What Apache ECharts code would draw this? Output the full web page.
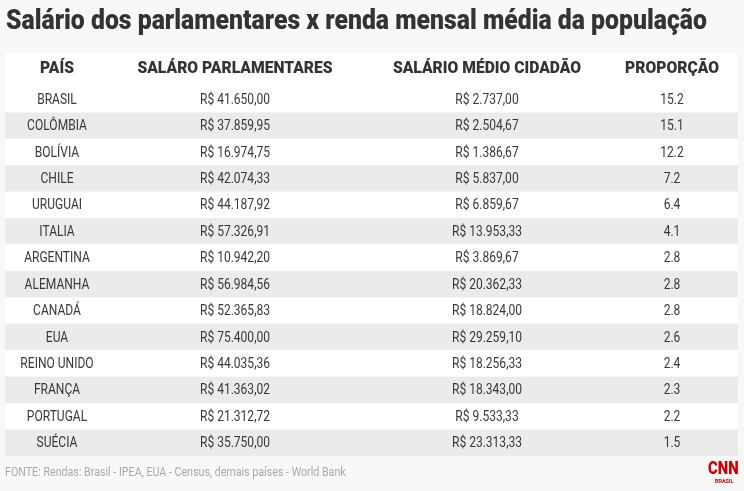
<!DOCTYPE html>
<html>
<head>
  <meta charset="UTF-8">
  <title>Salário dos parlamentares</title>
  <script src="https://cdn.jsdelivr.net/npm/echarts@6/dist/echarts.min.js"></script>
  <style>
    html, body { margin: 0; padding: 0; background: #f8f8f8; }
    #main { width: 744px; height: 491px; }
  </style>
</head>
<body>
<div id="main"></div>
<script type="text/javascript">
  // dados da tabela
  var paises = ['BRASIL', 'COLÔMBIA', 'BOLÍVIA', 'CHILE', 'URUGUAI', 'ITALIA', 'ARGENTINA',
    'ALEMANHA', 'CANADÁ', 'EUA', 'REINO UNIDO', 'FRANÇA', 'PORTUGAL', 'SUÉCIA'];
  var salarioParlamentares = [41650.00, 37859.95, 16974.75, 42074.33, 44187.92, 57326.91, 10942.20,
    56984.56, 52365.83, 75400.00, 44035.36, 41363.02, 21312.72, 35750.00];
  var salarioCidadao = [2737.00, 2504.67, 1386.67, 5837.00, 6859.67, 13953.33, 3869.67,
    20362.33, 18824.00, 29259.10, 18256.33, 18343.00, 9533.33, 23313.33];
  var proporcao = [15.2, 15.1, 12.2, 7.2, 6.4, 4.1, 2.8, 2.8, 2.8, 2.6, 2.4, 2.3, 2.2, 1.5];
  var cabecalho = ['PAÍS', 'SALÁRO PARLAMENTARES', 'SALÁRIO MÉDIO CIDADÃO', 'PROPORÇÃO'];

  // sem Roboto Condensed: Roboto comprimido na horizontal
  var FONT = 'Roboto, "Liberation Sans", sans-serif';
  var SX = 0.86;
  var colunas = [52, 230, 482, 667]; // centro de cada coluna (px a partir da esquerda do grid)

  function brl(v) {
    var p = v.toFixed(2).split('.');
    return 'R$ ' + p[0].replace(/\B(?=(\d{3})+(?!\d))/g, '.') + ',' + p[1];
  }

  function texto(t, x, y, font, fill, align, sx) {
    return {
      type: 'text', x: x, y: y, scaleX: sx || SX,
      style: { text: t, x: 0, y: 0, font: font, fill: fill, align: align || 'center', verticalAlign: 'middle' }
    };
  }

  var myChart = echarts.init(document.getElementById('main'));

  var option = {
    backgroundColor: '#f8f8f8',
    animation: false,
    grid: { left: 5, right: 6, top: 86, bottom: 35 },
    xAxis: { type: 'value', min: 0, max: 733, show: false },
    yAxis: { type: 'category', data: paises, inverse: true, show: false },
    graphic: [
      { type: 'rect', left: 5, top: 53, shape: { width: 733, height: 33 }, style: { fill: '#fff' } },
      texto('Salário dos parlamentares x renda mensal média da população', 6, 22, '900 27px ' + FONT, '#333', 'left', 0.918),
      texto('FONTE: Rendas: Brasil - IPEA, EUA - Census, demais países - World Bank', 5, 473, '12px ' + FONT, '#aaa', 'left', 0.89),
      texto('CNN', 708, 469, '900 19px ' + FONT, '#cc0000', 'left', 0.78),
      texto('BRASIL', 715, 481, 'bold 6px ' + FONT, '#cc0000', 'left', 0.9)
    ].concat(cabecalho.map(function (h, i) {
      return texto(h, 5 + colunas[i], 69, '900 17px ' + FONT, '#333', 'center', 0.92);
    })),
    series: [{
      type: 'custom',
      data: paises.map(function (p, i) { return [0, i]; }),
      renderItem: function (params, api) {
        var i = params.dataIndex;
        var cs = params.coordSys;
        var c = api.coord([0, i]);
        var h = api.size([0, 1])[1];
        var textos = [paises[i], brl(salarioParlamentares[i]), brl(salarioCidadao[i]), proporcao[i].toFixed(1)];
        var children = [{
          type: 'rect',
          shape: { x: cs.x, y: c[1] - h / 2, width: cs.width, height: h },
          style: { fill: i % 2 ? '#ebebeb' : '#fff' }
        }];
        textos.forEach(function (t, k) {
          children.push(texto(t, api.coord([colunas[k], i])[0], c[1] + 1, '14px ' + FONT, '#383838'));
        });
        return { type: 'group', children: children };
      }
    }]
  };

  myChart.setOption(option);
</script>
</body>
</html>
